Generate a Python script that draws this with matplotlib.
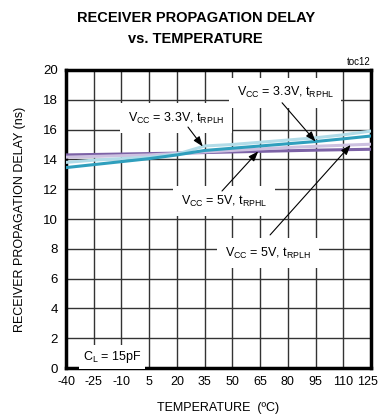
import matplotlib
matplotlib.use("Agg")
import matplotlib.pyplot as plt
import matplotlib.transforms as mtransforms
import numpy as np

plt.rcParams['font.family'] = ['Liberation Sans', 'DejaVu Sans']
plt.rcParams['mathtext.fontset'] = 'custom'
plt.rcParams['mathtext.rm'] = 'Liberation Sans'

temps = [-40, -25, -10, 5, 20, 35, 50, 65, 80, 95, 110, 125]
v33_rplh = [13.8, 13.95, 14.05, 14.15, 14.35, 14.9, 15.0, 15.15, 15.3, 15.45, 15.65, 15.9]
v33_rphl = [13.45, 13.65, 13.85, 14.05, 14.3, 14.6, 14.75, 14.9, 15.05, 15.2, 15.38, 15.57]
v5_rplh = [14.15, 14.2, 14.25, 14.3, 14.4, 14.5, 14.6, 14.7, 14.8, 14.88, 14.95, 15.02]
v5_rphl = [14.3, 14.33, 14.36, 14.39, 14.42, 14.46, 14.5, 14.54, 14.58, 14.62, 14.65, 14.68]

xticks = [-40, -25, -10, 5, 20, 35, 50, 65, 80, 95, 110, 125]
yticks = [0, 2, 4, 6, 8, 10, 12, 14, 16, 18, 20]

c_lblue = '#b2dce8'
c_teal = '#2f9fbd'
c_lpurp = '#cdc1e0'
c_purp = '#7c62a6'

fig = plt.figure(figsize=(3.8, 4.19), dpi=100)
ax = fig.add_axes([66/380, 1-368/419, (371-66)/380, (368-70)/419])

ax.plot(temps, v5_rphl, color=c_purp, lw=2.2, zorder=3)
ax.plot(temps, v5_rplh, color=c_lpurp, lw=2.2, zorder=3)
ax.plot(temps, v33_rphl, color=c_teal, lw=2.2, zorder=4)
ax.plot(temps, v33_rplh, color=c_lblue, lw=2.2, zorder=3)

ax.set_xlim(-40, 125)
ax.set_ylim(0, 20)
ax.set_xticks(xticks)
ax.set_yticks(yticks)
ax.set_xticklabels([str(t) for t in xticks], fontsize=9)
ax.set_yticklabels([str(t) for t in yticks], fontsize=9.5)
ax.tick_params(length=0, pad=6)
ax.grid(True, color='#333333', lw=1.0, zorder=1)
ax.set_axisbelow(True)
for s in ax.spines.values():
    s.set_linewidth(2.5)
    s.set_color('black')

# nudge the last x tick label left so it stays inside the figure
last = ax.get_xticklabels()[-1]
last.set_transform(last.get_transform() + mtransforms.ScaledTranslation(-4/100, 0, fig.dpi_scale_trans))

ax.set_xlabel('TEMPERATURE  (ºC)', fontsize=9, labelpad=10)
ax.set_ylabel('RECEIVER PROPAGATION DELAY (ns)', fontsize=9, labelpad=12)

fig.text(0.515, 1-18/419, 'RECEIVER PROPAGATION DELAY', ha='center', va='center',
         fontsize=10.5, fontweight='bold')
fig.text(0.515, 1-39/419, 'vs. TEMPERATURE', ha='center', va='center',
         fontsize=10.5, fontweight='bold')
fig.text(371/380, 1-62/419, 'toc12', ha='right', va='center', fontsize=7)

bb = dict(boxstyle='square,pad=0.6', fc='white', ec='none')

def arrow(start, t_tip, series):
    tip = (t_tip, float(np.interp(t_tip, temps, series)))
    ax.annotate('', xy=tip, xytext=start,
                arrowprops=dict(arrowstyle='-|>,head_length=0.6,head_width=0.22',
                                color='black', lw=0.8, shrinkA=0, shrinkB=0),
                zorder=6)

ax.text(78.5, 18.46, r'V$_{\mathregular{CC}}$ = 3.3V, t$_{\mathregular{RPHL}}$',
        ha='center', va='center', fontsize=9, bbox=bb, zorder=5)
arrow((76.9, 17.8), 95, v33_rphl)

ax.text(19.5, 16.78, r'V$_{\mathregular{CC}}$ = 3.3V, t$_{\mathregular{RPLH}}$',
        ha='center', va='center', fontsize=9, bbox=bb, zorder=5)
arrow((26, 16.17), 34, v33_rplh)

ax.text(45.5, 11.2, r'V$_{\mathregular{CC}}$ = 5V, t$_{\mathregular{RPHL}}$',
        ha='center', va='center', fontsize=9, bbox=bb, zorder=5)
arrow((44.4, 11.88), 64, v5_rphl)

ax.text(69.3, 7.72, r'V$_{\mathregular{CC}}$ = 5V, t$_{\mathregular{RPLH}}$',
        ha='center', va='center', fontsize=9, bbox=bb, zorder=5)
arrow((70.4, 8.93), 114, v5_rplh)

ax.text(-30.8, 0.74, r'C$_{\mathregular{L}}$ = 15pF', ha='left', va='center',
        fontsize=9, bbox=dict(boxstyle='square,pad=0.3', fc='white', ec='none'), zorder=5)

fig.savefig('out.png', dpi=100)
